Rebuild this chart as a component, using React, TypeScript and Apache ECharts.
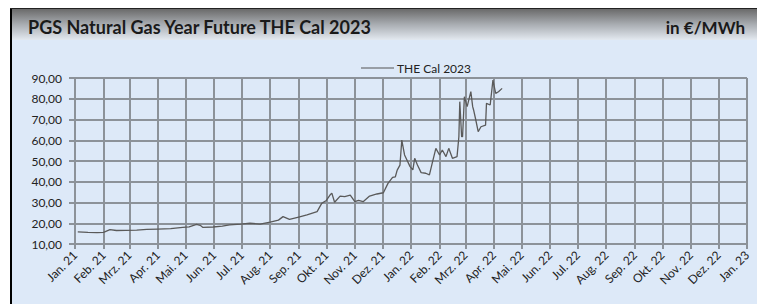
import React, { useEffect, useRef } from "react";
import * as echarts from "echarts";

const titleText = "PGS Natural Gas Year Future THE Cal 2023";
const unitText = "in €/MWh";
const seriesName = "THE Cal 2023";
const monthLabels = ["Jan.", "Feb.", "Mrz.", "Apr.", "Mai.", "Jun.", "Jul.", "Aug.", "Sep.", "Okt.", "Nov.", "Dez."];
const yMin = 10;
const yMax = 90;
const yStep = 10;
const xStart = "2021-01-01";
const xEnd = "2023-01-01";

const dates = [
  "2021-01-04", "2021-01-15", "2021-01-25", "2021-02-01", "2021-02-08", "2021-02-15", "2021-02-25",
  "2021-03-09", "2021-03-20", "2021-04-01", "2021-04-15", "2021-04-28", "2021-05-05", "2021-05-13",
  "2021-05-17", "2021-05-20", "2021-05-31", "2021-06-10", "2021-06-18", "2021-06-30", "2021-07-10",
  "2021-07-21", "2021-08-01", "2021-08-10", "2021-08-15", "2021-08-22", "2021-09-01", "2021-09-10",
  "2021-09-21", "2021-09-26", "2021-10-01", "2021-10-05", "2021-10-07", "2021-10-10", "2021-10-16",
  "2021-10-21", "2021-10-27", "2021-11-01", "2021-11-05", "2021-11-10", "2021-11-17", "2021-11-25",
  "2021-12-02", "2021-12-07", "2021-12-12", "2021-12-15", "2021-12-17", "2021-12-20", "2021-12-22",
  "2021-12-25", "2021-12-31", "2022-01-03", "2022-01-05", "2022-01-08", "2022-01-12", "2022-01-17",
  "2022-01-21", "2022-01-24", "2022-01-28", "2022-02-01", "2022-02-04", "2022-02-08", "2022-02-11",
  "2022-02-15", "2022-02-20", "2022-02-22", "2022-02-23", "2022-02-25", "2022-02-26", "2022-02-28",
  "2022-03-03", "2022-03-07", "2022-03-09", "2022-03-10", "2022-03-12", "2022-03-15", "2022-03-18",
  "2022-03-23", "2022-03-24", "2022-03-28", "2022-03-31", "2022-04-03", "2022-04-06", "2022-04-10",
];
const values = [
  15.8, 15.6, 15.5, 15.6, 16.9, 16.5, 16.6,
  16.7, 17.0, 17.2, 17.4, 18.0, 18.3, 19.5,
  19.0, 18.0, 18.2, 18.6, 19.2, 19.6, 20.0,
  19.6, 20.5, 21.5, 23.2, 21.9, 23.0, 24.0,
  25.6, 29.6, 31.0, 33.6, 34.5, 30.1, 33.1,
  32.8, 33.6, 30.4, 31.0, 30.4, 33.1, 34.1,
  34.7, 39.2, 42.1, 42.4, 45.6, 48.0, 60.1,
  52.9, 47.3, 45.7, 51.3, 48.1, 44.4, 44.1,
  43.3, 48.9, 56.1, 52.9, 55.3, 52.1, 56.1,
  51.3, 52.1, 61.7, 78.6, 61.7, 61.7, 81.0,
  76.2, 83.4, 76.2, 74.6, 70.6, 64.1, 66.5,
  67.3, 77.8, 77.0, 89.0, 82.6, 83.4, 85.0,
];

const toUtc = (s: string) => {
  const [y, m, d] = s.split("-").map(Number);
  return Date.UTC(y, m - 1, d);
};

export default function App() {
  const ref = useRef<HTMLDivElement>(null);
  useEffect(() => {
    if (!ref.current) return;
    const chart = echarts.init(ref.current, undefined, { renderer: "svg" });
    const font = "Lato, 'Open Sans', sans-serif";
    const gridColor = "#8c9299";
    const day = 86400000;
    chart.setOption({
      animation: false,
      useUTC: true,
      backgroundColor: "#dde9f8",
      textStyle: { fontFamily: font },
      graphic: [
        { type: "rect", shape: { x: 0, y: 0, width: 2, height: 296 }, style: { fill: "#000" } },
        {
          type: "rect",
          shape: { x: 2, y: 1, width: 745, height: 31 },
          style: {
            fill: new echarts.graphic.LinearGradient(0, 0, 0, 1, [
              { offset: 0, color: "#6a6a6a" },
              { offset: 0.5, color: "#a9adb2" },
              { offset: 1, color: "#e3e9f0" },
            ]),
          },
        },
        { type: "rect", shape: { x: 0, y: 0, width: 747, height: 1 }, style: { fill: "#222" } },
        {
          type: "text",
          x: 18,
          y: 19,
          style: { text: titleText, fontFamily: font, fontSize: 18, fontWeight: "bold", fill: "#1a1a1a", verticalAlign: "middle", align: "left" },
        },
        {
          type: "text",
          x: 735,
          y: 19,
          style: { text: unitText, fontFamily: font, fontSize: 17, fontWeight: "bold", fill: "#1a1a1a", verticalAlign: "middle", align: "right" },
        },
      ],
      legend: {
        show: true,
        left: 346,
        top: 49,
        icon: "rect",
        itemWidth: 33,
        itemHeight: 1,
        itemGap: 4,
        textStyle: { fontFamily: font, fontSize: 12, color: "#222", padding: [0, 0, 0, -2] },
        data: [{ name: seriesName, itemStyle: { color: "#555" } }],
      },
      grid: { left: 65, right: 10, top: 70, bottom: 60, containLabel: false },
      xAxis: {
        type: "time",
        min: toUtc(xStart),
        max: toUtc(xEnd),
        splitNumber: 24,
        minInterval: 28 * day,
        maxInterval: 31 * day,
        axisLine: { show: true, lineStyle: { color: gridColor, width: 2 } },
        axisTick: { show: true, length: 5, lineStyle: { color: gridColor, width: 2 } },
        splitLine: { show: true, lineStyle: { color: gridColor, width: 2 } },
        axisLabel: {
          rotate: 45,
          margin: 9,
          fontSize: 12,
          fontFamily: font,
          color: "#222",
          hideOverlap: false,
          showMinLabel: true,
          showMaxLabel: true,
          formatter: (v: number) => {
            const d = new Date(v);
            return monthLabels[d.getUTCMonth()] + " " + String(d.getUTCFullYear() % 100).padStart(2, "0");
          },
        },
      },
      yAxis: {
        type: "value",
        min: yMin,
        max: yMax,
        interval: yStep,
        axisLine: { show: true, lineStyle: { color: gridColor, width: 2 } },
        axisTick: { show: true, length: 6, lineStyle: { color: gridColor, width: 2 } },
        splitLine: { show: true, lineStyle: { color: gridColor, width: 2 } },
        axisLabel: {
          margin: 13,
          fontSize: 12,
          fontFamily: font,
          color: "#222",
          formatter: (v: number) => v.toFixed(2).replace(".", ","),
        },
      },
      series: [
        {
          name: seriesName,
          type: "line",
          data: dates.map((d, i) => [toUtc(d), values[i]]),
          showSymbol: false,
          symbol: "none",
          lineStyle: { color: "#5a5a5a", width: 1.3 },
          itemStyle: { color: "#5a5a5a" },
        },
      ],
    });
    return () => chart.dispose();
  }, []);
  return (
    <div
      ref={ref}
      style={{ position: "absolute", left: 10, top: 8, width: 747, height: 296 }}
    />
  );
}
